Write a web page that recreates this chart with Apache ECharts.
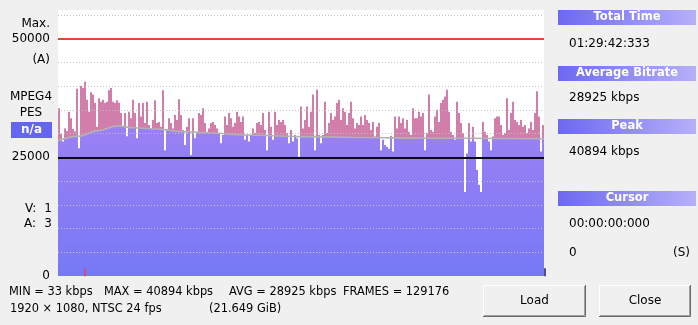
<!DOCTYPE html>
<html><head><meta charset="utf-8">
<script src="https://cdn.jsdelivr.net/npm/echarts@6/dist/echarts.min.js"></script>
<style>html,body{margin:0;padding:0;background:#f0f0f0;}#c{width:698px;height:325px;}</style>
</head><body><div id="c"></div>
<script>
// ---- data (kbps) ----
const bitrate = [
35300,30000,28300,31100,30600,34600,33200,31000,30500,39400,
26900,40000,39600,40894,37100,34600,38700,38200,36400,31500,
37400,36700,37100,36400,36700,39100,39600,36700,36400,37000,
36500,34300,31500,34300,29400,34600,33200,37100,34300,29000,
36400,33600,36400,32200,36700,31800,31100,32900,37000,32200,
32500,31500,39100,26500,30800,33200,32200,31100,33900,32900,
37200,33900,30800,27600,31500,33200,25500,33200,29000,30400,
34300,33900,35300,32200,30400,31100,32200,32500,31800,31100,
30100,27950,29700,33600,31800,34300,33200,31500,32200,34600,
33600,32500,33600,28700,29700,28300,29700,31100,30100,32200,
32500,31800,34300,30800,26500,34600,31500,28700,34600,31800,
32900,32500,32900,31800,30100,27950,30800,28300,29700,29000,
25100,35700,31100,32900,35700,31500,34600,38200,26500,39200,
29700,27950,29700,36700,30100,32200,34300,32900,33600,36400,
37100,32900,35300,34600,31800,34300,36700,33200,31100,32200,
31800,33600,31800,33900,32900,32200,30800,32500,29400,31500,
32200,26500,28700,27600,27200,26800,29600,26200,33600,31100,
33600,32200,33200,31100,32900,30400,29700,35300,33200,33200,
34600,33600,34300,26500,30100,38200,30800,30400,33600,35000,
32500,36400,37100,37800,39200,34600,30400,29700,28700,36700,
34300,32200,30100,17700,25800,32200,28300,31500,28300,22300,
19200,17700,32500,30400,29700,28300,26500,29400,33200,33600,
33600,31800,29700,30100,37400,30800,34300,36700,32900,32500,
31800,32900,31500,31800,30100,31100,32500,30800,34300,38900,
33600,26200,31800
];
// smoothed average curve: [sample position, kbps]
const averageCurve = [
[0,28500],[10,29400],[20,30600],[30,31600],[38,31200],[50,30900],[62,30400],
[76,30100],[94,29700],[121,29350],[154,29150],[184,29000],[243,28900]
];
const yTickLabels = [0, 25000, 50000];
const maxLine = 50000;
const refLine = 25000;
const cursorMarks = [[13, 800]];
const endMarks = [[242, 800]];

// ---- build ----
const categories = bitrate.map((_, i) => String(i));
const maskTop = 33000;
const maskBase = bitrate.map(v => v);
const maskFill = bitrate.map(v => Math.max(0, maskTop - v));

const FONT = '"DejaVu Sans", sans-serif';
function txt(t, x, y, align, extra) {
  return { type: 'text', x: x, y: y, z: 20,
    style: Object.assign({ text: t, fill: '#000', font: '12px ' + FONT,
      textAlign: align || 'left', textVerticalAlign: 'middle' }, extra || {}) };
}
const small = { font: '11.4px ' + FONT };
function header(t, y) {
  return [
    { type: 'rect', z: 19, shape: { x: 558, y: y, width: 138, height: 15 },
      style: { fill: new echarts.graphic.LinearGradient(0, 0, 1, 0, [
        { offset: 0, color: '#6c69f1' }, { offset: 1, color: '#b6aff9' }]) } },
    txt(t, 627, y + 7.5, 'center', { fill: '#fff', font: 'bold 11.5px ' + FONT })
  ];
}
function button(t, x, y, w, h) {
  return [
    { type: 'rect', z: 19, shape: { x: x, y: y, width: w, height: h }, style: { fill: '#f0f0f0' } },
    { type: 'polyline', z: 19, shape: { points: [[x + 0.5, y + h - 1], [x + 0.5, y + 0.5], [x + w - 1, y + 0.5]] },
      style: { stroke: '#ffffff', lineWidth: 1, fill: null } },
    { type: 'polyline', z: 19, shape: { points: [[x, y + h - 0.5], [x + w - 0.5, y + h - 0.5], [x + w - 0.5, y]] },
      style: { stroke: '#696969', lineWidth: 1, fill: null } },
    { type: 'polyline', z: 19, shape: { points: [[x + 1, y + h - 1.5], [x + w - 1.5, y + h - 1.5], [x + w - 1.5, y + 1]] },
      style: { stroke: '#a0a0a0', lineWidth: 1, fill: null } },
    txt(t, x + w / 2, y + h / 2, 'center')
  ];
}

const graphics = [].concat(
  [txt('Max.', 50, 24, 'right'), txt('(A)', 50, 60, 'right'),
   txt('MPEG4', 31, 97, 'center'), txt('PES', 31, 113, 'center'),
   { type: 'rect', z: 19, shape: { x: 11, y: 122, width: 41, height: 16 }, style: { fill: '#6565f3' } },
   txt('n/a', 31.5, 130, 'center', { fill: '#fff', font: 'bold 12px ' + FONT }),
   txt('V:', 25, 209), txt('1', 52, 209, 'right'),
   txt('A:', 24, 224), txt('3', 52, 224, 'right'),
   txt('MIN = 33 kbps', 9, 292, 'left', small), txt('MAX = 40894 kbps', 104, 292, 'left', small),
   txt('AVG = 28925 kbps', 229, 292, 'left', small), txt('FRAMES = 129176', 343, 292, 'left', small),
   txt('1920 × 1080, NTSC 24 fps', 10, 309, 'left', small), txt('(21.649 GiB)', 209, 309, 'left', small)],
  header('Total Time', 10), [txt('01:29:42:333', 569, 43.5)],
  header('Average Bitrate', 66), [txt('28925 kbps', 569, 98)],
  header('Peak', 119), [txt('40894 kbps', 569, 152)],
  header('Cursor', 191), [txt('00:00:00:000', 569, 224), txt('0', 569, 253), txt('(S)', 690, 253, 'right')],
  button('Load', 483, 285, 103, 32), button('Close', 599, 285, 92, 32)
);

const chart = echarts.init(document.getElementById('c'), null, { renderer: 'canvas' });
chart.setOption({
  animation: false,
  backgroundColor: '#f0f0f0',
  grid: { left: 58, top: 10, width: 486, height: 266, show: true, backgroundColor: '#ffffff', borderWidth: 0 },
  xAxis: [
    { type: 'category', data: categories, boundaryGap: true, show: false },
    { type: 'value', min: 0, max: bitrate.length, show: false }
  ],
  yAxis: {
    type: 'value', min: 0, max: 56000, interval: 5000, z: 4,
    axisLine: { show: false }, axisTick: { show: false },
    axisLabel: { showMaxLabel: false, margin: 8, color: '#000', fontSize: 12, fontFamily: 'DejaVu Sans',
      formatter: v => yTickLabels.indexOf(v) >= 0 ? String(v) : '' },
    splitLine: { show: true, showMinLine: false, showMaxLine: false,
      lineStyle: { color: '#c2c2c2', type: [1, 2], width: 1 } }
  },
  graphic: graphics,
  series: [
    { type: 'bar', name: 'bitrate', data: bitrate, z: 1, barCategoryGap: '0%', barGap: '-100%',
      itemStyle: { color: '#d17eab' }, silent: true },
    { type: 'line', name: 'avgFill', xAxisIndex: 1, data: averageCurve, z: 2, smooth: 0.4, smoothMonotone: 'x',
      showSymbol: false, symbol: 'none', lineStyle: { width: 0 },
      areaStyle: { opacity: 1, color: new echarts.graphic.LinearGradient(0, 0, 0, 1, [
        { offset: 0, color: '#9c80f4' }, { offset: 1, color: '#7779f6' }]) } },
    { type: 'bar', name: 'maskBase', data: maskBase, stack: 'm', z: 3, barCategoryGap: '0%', barGap: '-100%',
      itemStyle: { color: 'rgba(0,0,0,0)' }, silent: true },
    { type: 'bar', name: 'mask', data: maskFill, stack: 'm', z: 3, barCategoryGap: '0%', barGap: '-100%',
      itemStyle: { color: '#ffffff' }, silent: true },
    { type: 'line', name: 'avg', xAxisIndex: 1, data: averageCurve, z: 5, smooth: 0.4, smoothMonotone: 'x',
      showSymbol: false, symbol: 'none', lineStyle: { width: 1.6, color: '#b2b2b2' },
      markLine: { silent: true, symbol: 'none', label: { show: false }, animation: false,
        data: [
          { yAxis: maxLine, lineStyle: { color: '#e8452f', width: 2, type: 'solid' } },
          { yAxis: refLine, lineStyle: { color: '#0a0a1a', width: 2, type: 'solid' } }
        ] } },
    { type: 'scatter', data: cursorMarks, z: 6, symbol: 'rect', symbolSize: [2, 8], itemStyle: { color: '#e0407a' } },
    { type: 'scatter', data: endMarks, z: 6, symbol: 'rect', symbolSize: [2, 8], symbolOffset: [2, 0], itemStyle: { color: '#2a2a6a' } }
  ]
});
</script>
</body></html>
